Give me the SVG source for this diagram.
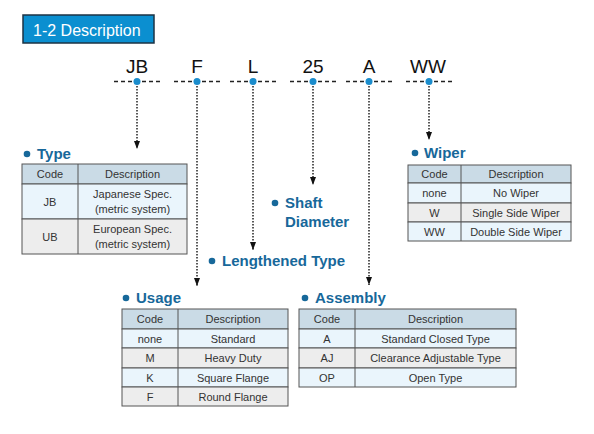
<svg xmlns="http://www.w3.org/2000/svg" width="594" height="434" viewBox="0 0 594 434">
<defs>
<style>
.code{font-family:"Liberation Sans",Arial,sans-serif;font-size:19px;fill:#111;text-anchor:middle}
.h{font-family:"Liberation Sans",Arial,sans-serif;font-size:15px;font-weight:bold;fill:#17689a}
.bul{fill:#17689a}
.t{font-family:"Liberation Sans",Arial,sans-serif;font-size:11px;fill:#333;text-anchor:middle}
.hd{fill:#cadbe6;stroke:#555;stroke-width:1}
.rb{fill:#eaf5fc;stroke:#555;stroke-width:1}
.rg{fill:#ededed;stroke:#555;stroke-width:1}
.cl{stroke:#555;stroke-width:1}
.dash{stroke:#222;stroke-width:1.5;stroke-dasharray:4 3;fill:none}
.dot{fill:#1a8ccc}
.conn{stroke:#222;stroke-width:1.5;stroke-dasharray:1.5 1.5;fill:none}
</style>
<marker id="arr" viewBox="0 0 8 6" refX="8" refY="3" markerWidth="8" markerHeight="6" markerUnits="userSpaceOnUse" orient="auto">
<path d="M0,0 L8,3 L0,6 Z" fill="#111"/>
</marker>
</defs>
<rect width="594" height="434" fill="#fff"/>

<g id="title">
<rect x="23" y="15" width="131" height="28" fill="#0b8fd0" stroke="#1c3344" stroke-width="1.5"/>
<text x="33" y="35.5" font-family="Liberation Sans, Arial, sans-serif" font-size="16" fill="#fff">1-2 Description</text>
</g>

<g id="codes">
<text class="code" x="137" y="72.5">JB</text>
<line class="dash" x1="114" y1="81.5" x2="160" y2="81.5"/>
<circle class="dot" cx="137" cy="81.5" r="3.5"/>
<text class="code" x="197" y="72.5">F</text>
<line class="dash" x1="174" y1="81.5" x2="220" y2="81.5"/>
<circle class="dot" cx="197" cy="81.5" r="3.5"/>
<text class="code" x="253" y="72.5">L</text>
<line class="dash" x1="230" y1="81.5" x2="276" y2="81.5"/>
<circle class="dot" cx="253" cy="81.5" r="3.5"/>
<text class="code" x="313" y="72.5">25</text>
<line class="dash" x1="290" y1="81.5" x2="336" y2="81.5"/>
<circle class="dot" cx="313" cy="81.5" r="3.5"/>
<text class="code" x="369" y="72.5">A</text>
<line class="dash" x1="346" y1="81.5" x2="392" y2="81.5"/>
<circle class="dot" cx="369" cy="81.5" r="3.5"/>
<text class="code" x="428" y="72.5">WW</text>
<line class="dash" x1="406" y1="81.5" x2="452" y2="81.5"/>
<circle class="dot" cx="429" cy="81.5" r="3.5"/>
</g>

<g id="connectors">
<line class="conn" x1="137" y1="86" x2="137" y2="149" marker-end="url(#arr)"/>
<line class="conn" x1="197" y1="86" x2="197" y2="286" marker-end="url(#arr)"/>
<line class="conn" x1="253" y1="86" x2="253" y2="250" marker-end="url(#arr)"/>
<line class="conn" x1="313" y1="86" x2="313" y2="185" marker-end="url(#arr)"/>
<line class="conn" x1="369" y1="86" x2="369" y2="285" marker-end="url(#arr)"/>
<line class="conn" x1="429" y1="86" x2="429" y2="140" marker-end="url(#arr)"/>
</g>

<g id="type">
<circle class="bul" cx="27" cy="154" r="3.3"/>
<text class="h" x="37" y="159">Type</text>
<rect class="hd" x="22" y="164" width="165" height="20"/>
<rect class="rb" x="22" y="184" width="165" height="35"/>
<rect class="rg" x="22" y="219" width="165" height="35"/>
<line class="cl" x1="78" y1="164" x2="78" y2="254"/>
<text class="t" x="50" y="178">Code</text>
<text class="t" x="132.5" y="178">Description</text>
<text class="t" x="50" y="205.5">JB</text>
<text class="t" x="132.5" y="198">Japanese Spec.</text>
<text class="t" x="132.5" y="213">(metric system)</text>
<text class="t" x="50" y="240.5">UB</text>
<text class="t" x="132.5" y="233">European Spec.</text>
<text class="t" x="132.5" y="248">(metric system)</text>
</g>

<g id="wiper">
<circle class="bul" cx="415" cy="153" r="3.3"/>
<text class="h" x="424" y="158">Wiper</text>
<rect class="hd" x="408" y="165" width="163" height="18"/>
<rect class="rb" x="408" y="183" width="163" height="20"/>
<rect class="rg" x="408" y="203" width="163" height="19"/>
<rect class="rb" x="408" y="222" width="163" height="19"/>
<line class="cl" x1="461" y1="165" x2="461" y2="241"/>
<text class="t" x="434.5" y="178">Code</text>
<text class="t" x="516" y="178">Description</text>
<text class="t" x="434.5" y="197">none</text>
<text class="t" x="516" y="197">No Wiper</text>
<text class="t" x="434.5" y="216.5">W</text>
<text class="t" x="516" y="216.5">Single Side Wiper</text>
<text class="t" x="434.5" y="235.5">WW</text>
<text class="t" x="516" y="235.5">Double Side Wiper</text>
</g>

<g id="shaft">
<circle class="bul" cx="275" cy="203" r="3.3"/>
<text class="h" x="285" y="208">Shaft</text>
<text class="h" x="285" y="227">Diameter</text>
</g>

<g id="lengthened">
<circle class="bul" cx="212" cy="261" r="3.3"/>
<text class="h" x="222" y="266">Lengthened Type</text>
</g>

<g id="usage">
<circle class="bul" cx="126" cy="298" r="3.3"/>
<text class="h" x="136" y="303">Usage</text>
<rect class="hd" x="122" y="309" width="166" height="20"/>
<rect class="rb" x="122" y="329" width="166" height="19"/>
<rect class="rg" x="122" y="348" width="166" height="20"/>
<rect class="rb" x="122" y="368" width="166" height="19"/>
<rect class="rg" x="122" y="387" width="166" height="19"/>
<line class="cl" x1="178" y1="309" x2="178" y2="406"/>
<text class="t" x="150" y="323">Code</text>
<text class="t" x="233" y="323">Description</text>
<text class="t" x="150" y="342.5">none</text>
<text class="t" x="233" y="342.5">Standard</text>
<text class="t" x="150" y="362">M</text>
<text class="t" x="233" y="362">Heavy Duty</text>
<text class="t" x="150" y="381.5">K</text>
<text class="t" x="233" y="381.5">Square Flange</text>
<text class="t" x="150" y="400.5">F</text>
<text class="t" x="233" y="400.5">Round Flange</text>
</g>

<g id="assembly">
<circle class="bul" cx="305" cy="298" r="3.3"/>
<text class="h" x="315" y="303">Assembly</text>
<rect class="hd" x="299" y="309" width="217" height="20"/>
<rect class="rb" x="299" y="329" width="217" height="19"/>
<rect class="rg" x="299" y="348" width="217" height="20"/>
<rect class="rb" x="299" y="368" width="217" height="19"/>
<line class="cl" x1="355" y1="309" x2="355" y2="387"/>
<text class="t" x="327" y="323">Code</text>
<text class="t" x="435.5" y="323">Description</text>
<text class="t" x="327" y="342.5">A</text>
<text class="t" x="435.5" y="342.5">Standard Closed Type</text>
<text class="t" x="327" y="362">AJ</text>
<text class="t" x="435.5" y="362">Clearance Adjustable Type</text>
<text class="t" x="327" y="381.5">OP</text>
<text class="t" x="435.5" y="381.5">Open Type</text>
</g>
</svg>
